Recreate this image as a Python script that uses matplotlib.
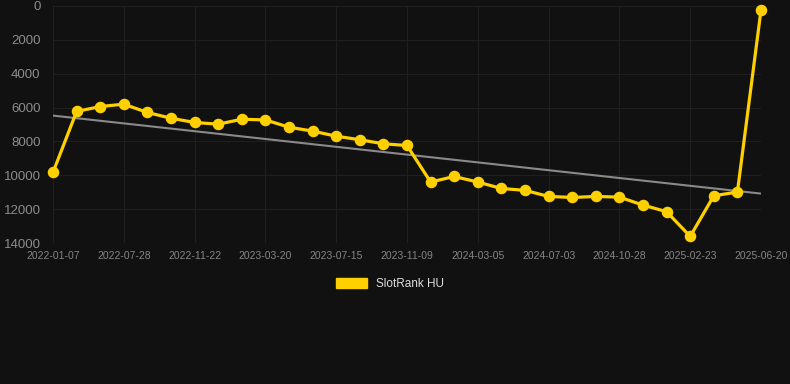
"""SlotRank HU rank history chart"""
import matplotlib
matplotlib.use('Agg')
import matplotlib.pyplot as plt
import numpy as np

tick_labels = ['2022-01-07', '2022-07-28', '2022-11-22', '2023-03-20', '2023-07-15',
               '2023-11-09', '2024-03-05', '2024-07-03', '2024-10-28', '2025-02-23',
               '2025-06-20']
ranks = [9830, 6230, 5940, 5800, 6290, 6630, 6880, 6980, 6690, 6730,
         7160, 7390, 7690, 7900, 8140, 8240, 10400, 10070, 10400, 10780,
         10890, 11250, 11310, 11250, 11290, 11760, 12150, 13610, 11210, 10990,
         240]
series_name = 'SlotRank HU'

bg = '#111111'
yellow = '#FFD000'
plt.rcParams['font.family'] = ['Liberation Sans', 'DejaVu Sans']

x = np.arange(len(ranks))
fig = plt.figure(figsize=(7.9, 3.84), dpi=100, facecolor=bg)
ax = fig.add_axes([53 / 790, 1 - 243 / 384, (761 - 53) / 790, (243 - 6) / 384])
ax.set_facecolor(bg)

# trend line from a linear fit
k, b = np.polyfit(x, ranks, 1)
ax.plot(x, k * x + b, color='#8a8a8a', lw=1.5, zorder=2)

ax.plot(x, ranks, color=yellow, lw=2.3, marker='o', markersize=7.3,
        zorder=3, clip_on=False, label=series_name)

ax.set_ylim(14000, 0)
ax.set_yticks(range(0, 14001, 2000))
ax.set_xlim(0, len(ranks) - 1)
ax.set_xticks(x[::3])
ax.set_xticklabels(tick_labels)

ax.grid(True, color='#1f1f1f', lw=0.8)
ax.set_axisbelow(True)
for s in ax.spines.values():
    s.set_visible(False)
ax.tick_params(axis='y', colors='#8c8c8c', labelsize=9.5, length=0, pad=9)
ax.tick_params(axis='x', colors='#858585', labelsize=7.5, length=0, pad=6)

handle = plt.Rectangle((0, 0), 1, 1, color=yellow)
leg = fig.legend([handle], [series_name], loc='center', bbox_to_anchor=(390 / 790, 1 - 284 / 384),
                 frameon=False, handlelength=2.6, handleheight=0.9, fontsize=8.5)
for t in leg.get_texts():
    t.set_color('#dddddd')

fig.savefig('out.png', dpi=100, facecolor=bg)
